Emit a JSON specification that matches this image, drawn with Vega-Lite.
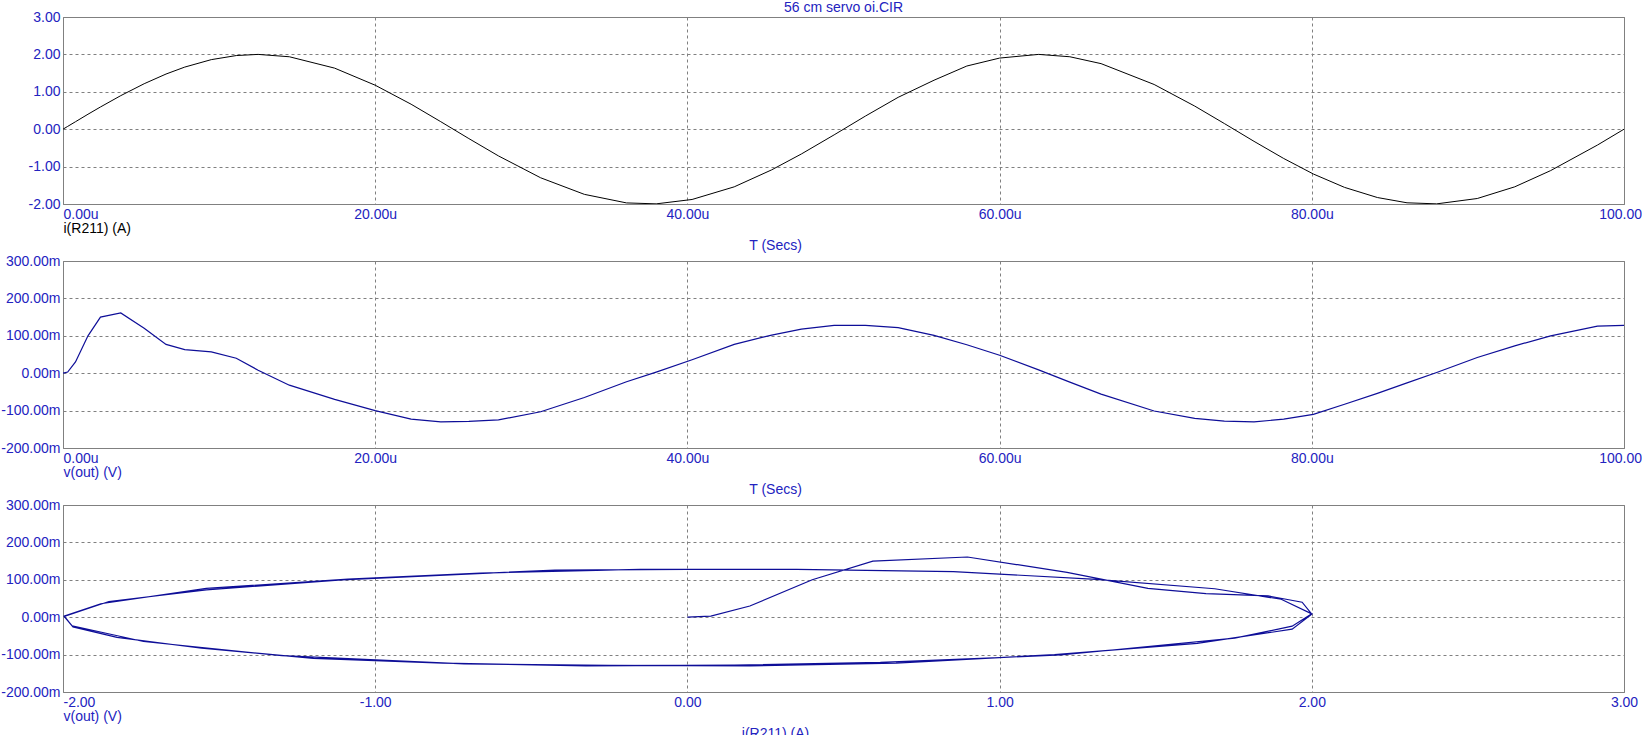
{
  "$schema": "https://vega.github.io/schema/vega-lite/v6.json",
  "background": "white",
  "padding": {"left": 0, "top": 0, "right": 0, "bottom": 0},
  "title": {"text": "56 cm servo oi.CIR", "anchor": "middle", "frame": "group", "offset": -5, "dx": 0},
  "spacing": 57,
  "bounds": "flush",
  "data": {"values": [
    {"t": 0, "i": 0, "v": 0},
    {"t": 0.3, "i": 0.075, "v": 3},
    {"t": 0.8, "i": 0.2, "v": 30},
    {"t": 1.6, "i": 0.4, "v": 100},
    {"t": 2.4, "i": 0.594, "v": 150},
    {"t": 3.7, "i": 0.897, "v": 161},
    {"t": 5.2, "i": 1.216, "v": 120},
    {"t": 6.6, "i": 1.475, "v": 77},
    {"t": 7.8, "i": 1.661, "v": 63},
    {"t": 9.5, "i": 1.86, "v": 57},
    {"t": 11.1, "i": 1.969, "v": 40},
    {"t": 12.5, "i": 2.0, "v": 8},
    {"t": 14.5, "i": 1.937, "v": -32},
    {"t": 17.4, "i": 1.633, "v": -70},
    {"t": 20, "i": 1.176, "v": -100},
    {"t": 22.3, "i": 0.668, "v": -123},
    {"t": 24.2, "i": 0.201, "v": -130},
    {"t": 26.0, "i": -0.251, "v": -129},
    {"t": 27.9, "i": -0.715, "v": -125},
    {"t": 30.6, "i": -1.299, "v": -103},
    {"t": 33.4, "i": -1.742, "v": -65},
    {"t": 36.1, "i": -1.971, "v": -23},
    {"t": 38.0, "i": -1.996, "v": 3},
    {"t": 40.3, "i": -1.879, "v": 36},
    {"t": 43.0, "i": -1.541, "v": 77},
    {"t": 45.4, "i": -1.087, "v": 102},
    {"t": 47.3, "i": -0.663, "v": 118},
    {"t": 49.4, "i": -0.151, "v": 128},
    {"t": 51.4, "i": 0.35, "v": 128},
    {"t": 53.5, "i": 0.852, "v": 122},
    {"t": 55.8, "i": 1.31, "v": 101},
    {"t": 57.9, "i": 1.689, "v": 76},
    {"t": 60.0, "i": 1.902, "v": 48},
    {"t": 62.5, "i": 2.0, "v": 9},
    {"t": 64.5, "i": 1.937, "v": -24},
    {"t": 66.5, "i": 1.753, "v": -56},
    {"t": 69.9, "i": 1.196, "v": -101},
    {"t": 72.5, "i": 0.618, "v": -121},
    {"t": 74.4, "i": 0.151, "v": -128},
    {"t": 76.3, "i": -0.325, "v": -130},
    {"t": 78.2, "i": -0.783, "v": -123},
    {"t": 80.1, "i": -1.198, "v": -110},
    {"t": 82.1, "i": -1.556, "v": -83},
    {"t": 84.2, "i": -1.827, "v": -54},
    {"t": 86.1, "i": -1.968, "v": -26},
    {"t": 88.0, "i": -1.996, "v": 2},
    {"t": 90.6, "i": -1.853, "v": 42},
    {"t": 93.0, "i": -1.541, "v": 73},
    {"t": 95.3, "i": -1.107, "v": 100},
    {"t": 98.3, "i": -0.424, "v": 126},
    {"t": 100, "i": 0, "v": 128}
  ]},
  "vconcat": [
    {
      "width": 1561, "height": 187,
      "title": {"text": "T (Secs)", "orient": "bottom", "anchor": "middle", "frame": "group", "dx": -68, "offset": 3},
      "mark": {"type": "line", "color": "#000000", "strokeWidth": 1, "clip": true},
      "encoding": {
        "x": {"field": "t", "type": "quantitative", "scale": {"domain": [0, 100], "nice": false, "zero": false},
              "axis": {"title": "i(R211) (A)", "titleColor": "#000000", "values": [0, 20, 40, 60, 80, 100],
                       "labelExpr": "format(datum.value, '.2f') + 'u'",
                       "labelAlign": {"condition": {"test": "datum.value === 0", "value": "left"}, "value": "center"}}},
        "y": {"field": "i", "type": "quantitative", "scale": {"domain": [-2, 3], "nice": false, "zero": false},
              "axis": {"title": null, "values": [-2, -1, 0, 1, 2, 3],
                       "labelExpr": "(datum.value < 0 ? '-' : '') + format(abs(datum.value), '.2f')"}},
        "order": {"field": "t", "type": "quantitative"}
      }
    },
    {
      "width": 1561, "height": 187,
      "title": {"text": "T (Secs)", "orient": "bottom", "anchor": "middle", "frame": "group", "dx": -68, "offset": 3},
      "mark": {"type": "line", "color": "#0e0e98", "strokeWidth": 1.2, "clip": true},
      "encoding": {
        "x": {"field": "t", "type": "quantitative", "scale": {"domain": [0, 100], "nice": false, "zero": false},
              "axis": {"title": "v(out) (V)", "values": [0, 20, 40, 60, 80, 100],
                       "labelExpr": "format(datum.value, '.2f') + 'u'",
                       "labelAlign": {"condition": {"test": "datum.value === 0", "value": "left"}, "value": "center"}}},
        "y": {"field": "v", "type": "quantitative", "scale": {"domain": [-200, 300], "nice": false, "zero": false},
              "axis": {"title": null, "values": [-200, -100, 0, 100, 200, 300],
                       "labelExpr": "(datum.value < 0 ? '-' : '') + format(abs(datum.value), '.2f') + 'm'"}},
        "order": {"field": "t", "type": "quantitative"}
      }
    },
    {
      "width": 1561, "height": 187,
      "title": {"text": "i(R211) (A)", "orient": "bottom", "anchor": "middle", "frame": "group", "dx": -68, "offset": 3},
      "mark": {"type": "line", "color": "#0e0e98", "strokeWidth": 1.2, "clip": true},
      "encoding": {
        "x": {"field": "i", "type": "quantitative", "scale": {"domain": [-2, 3], "nice": false, "zero": false},
              "axis": {"title": "v(out) (V)", "values": [-2, -1, 0, 1, 2, 3],
                       "labelExpr": "(datum.value < 0 ? '-' : '') + format(abs(datum.value), '.2f')",
                       "labelAlign": {"condition": {"test": "datum.value === -2", "value": "left"}, "value": "center"}}},
        "y": {"field": "v", "type": "quantitative", "scale": {"domain": [-200, 300], "nice": false, "zero": false},
              "axis": {"title": null, "values": [-200, -100, 0, 100, 200, 300],
                       "labelExpr": "(datum.value < 0 ? '-' : '') + format(abs(datum.value), '.2f') + 'm'"}},
        "order": {"field": "t", "type": "quantitative"}
      }
    }
  ],
  "config": {
    "font": "Liberation Sans",
    "view": {"stroke": "#808080", "strokeWidth": 1},
    "axis": {
      "grid": true, "gridColor": "#808080", "gridDash": [3, 3], "gridWidth": 1, "gridOpacity": 1,
      "domain": false, "ticks": false,
      "labelFont": "Liberation Sans", "labelFontSize": 14, "labelColor": "#2323c0",
      "titleFont": "Liberation Sans", "titleFontSize": 14, "titleFontWeight": "normal", "titleColor": "#2323c0"
    },
    "axisX": {"labelPadding": 3, "labelFlush": false, "labelOverlap": false, "titleAnchor": "start", "titleAlign": "left", "titlePadding": 0.5},
    "axisY": {"labelPadding": 3, "labelOverlap": false},
    "title": {"font": "Liberation Sans", "fontSize": 14, "fontWeight": "normal", "color": "#2323c0"}
  }
}
